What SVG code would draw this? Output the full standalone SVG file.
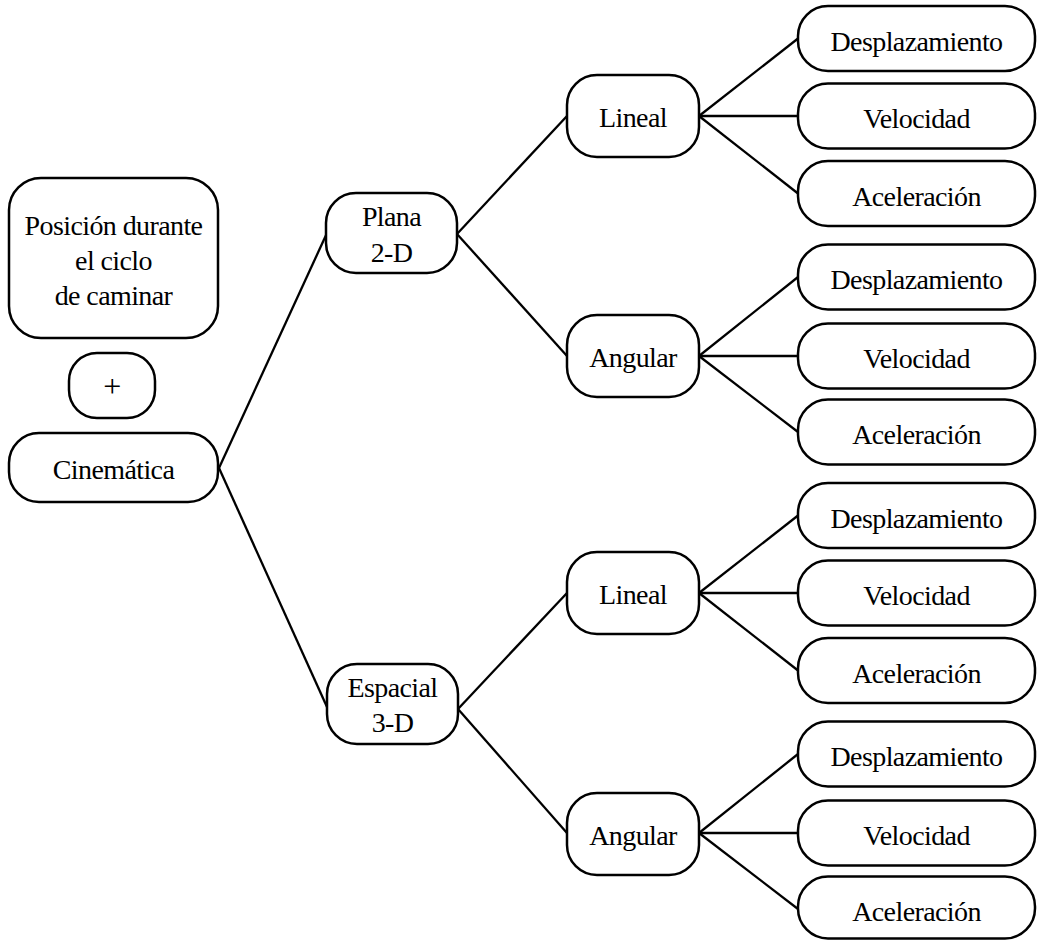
<svg xmlns="http://www.w3.org/2000/svg" width="1040" height="940" viewBox="0 0 1040 940">
<style>
.box{fill:#fff;stroke:#000;stroke-width:2.5}
.t{font-family:"Liberation Serif","Times New Roman",serif;font-size:28px;letter-spacing:-0.6px;text-anchor:middle;fill:#000}
.p{font-size:32px}
.c line{stroke:#000;stroke-width:2.3}
</style>
<rect width="1040" height="940" fill="#fff"/>
<g class="c" id="connectors">
<line x1="219" y1="468" x2="327" y2="233"/>
<line x1="219" y1="468" x2="327" y2="707"/>
<line x1="457" y1="234" x2="567" y2="116"/>
<line x1="457" y1="234" x2="567" y2="356"/>
<line x1="458" y1="709" x2="567" y2="593"/>
<line x1="458" y1="709" x2="567" y2="833"/>
<line x1="699" y1="116" x2="798" y2="38.5"/>
<line x1="699" y1="116" x2="798" y2="116"/>
<line x1="699" y1="116" x2="798" y2="193.5"/>
<line x1="699" y1="356" x2="798" y2="277"/>
<line x1="699" y1="356" x2="798" y2="356"/>
<line x1="699" y1="356" x2="798" y2="432"/>
<line x1="699" y1="593" x2="798" y2="515.5"/>
<line x1="699" y1="593" x2="798" y2="593"/>
<line x1="699" y1="593" x2="798" y2="670.5"/>
<line x1="699" y1="833" x2="798" y2="754"/>
<line x1="699" y1="833" x2="798" y2="833"/>
<line x1="699" y1="833" x2="798" y2="909"/>
</g>
<g id="posicion"><rect class="box" x="9" y="178" width="209" height="160" rx="32"/>
<text class="t" x="113.5" y="235">Posición durante</text>
<text class="t" x="113.5" y="270">el ciclo</text>
<text class="t" x="113.5" y="305">de caminar</text></g>
<g id="plus"><rect class="box" x="69" y="353" width="86" height="65" rx="28"/>
<text class="t p" x="112" y="397">+</text></g>
<g id="cinematica"><rect class="box" x="9" y="433" width="209" height="69" rx="30"/>
<text class="t" x="113.5" y="479">Cinemática</text></g>
<g id="plana"><rect class="box" x="326" y="193" width="131" height="80" rx="30"/>
<text class="t" x="391.5" y="226">Plana</text>
<text class="t" x="391.5" y="262">2-D</text></g>
<g id="espacial"><rect class="box" x="327" y="664" width="131" height="80" rx="30"/>
<text class="t" x="392.5" y="697">Espacial</text>
<text class="t" x="392.5" y="732">3-D</text></g>
<g id="lineal1"><rect class="box" x="567" y="75" width="132" height="82" rx="30"/>
<text class="t" x="633" y="127">Lineal</text></g>
<g id="angular1"><rect class="box" x="567" y="315" width="132" height="82" rx="30"/>
<text class="t" x="633" y="367">Angular</text></g>
<g id="lineal2"><rect class="box" x="567" y="552" width="132" height="82" rx="30"/>
<text class="t" x="633" y="604">Lineal</text></g>
<g id="angular2"><rect class="box" x="567" y="793" width="132" height="82" rx="30"/>
<text class="t" x="633" y="845">Angular</text></g>
<g id="desp1"><rect class="box" x="798" y="6" width="237" height="65" rx="30"/><text class="t" x="916.5" y="51">Desplazamiento</text></g>
<g id="vel1"><rect class="box" x="798" y="83.5" width="237" height="65" rx="30"/><text class="t" x="916.5" y="128">Velocidad</text></g>
<g id="acel1"><rect class="box" x="798" y="161" width="237" height="65" rx="30"/><text class="t" x="916.5" y="206">Aceleración</text></g>
<g id="desp2"><rect class="box" x="798" y="244.5" width="237" height="65" rx="30"/><text class="t" x="916.5" y="289">Desplazamiento</text></g>
<g id="vel2"><rect class="box" x="798" y="323.5" width="237" height="65" rx="30"/><text class="t" x="916.5" y="368">Velocidad</text></g>
<g id="acel2"><rect class="box" x="798" y="399.5" width="237" height="65" rx="30"/><text class="t" x="916.5" y="444">Aceleración</text></g>
<g id="desp3"><rect class="box" x="798" y="483" width="237" height="65" rx="30"/><text class="t" x="916.5" y="528">Desplazamiento</text></g>
<g id="vel3"><rect class="box" x="798" y="560.5" width="237" height="65" rx="30"/><text class="t" x="916.5" y="605">Velocidad</text></g>
<g id="acel3"><rect class="box" x="798" y="638" width="237" height="65" rx="30"/><text class="t" x="916.5" y="683">Aceleración</text></g>
<g id="desp4"><rect class="box" x="798" y="721.5" width="237" height="65" rx="30"/><text class="t" x="916.5" y="766">Desplazamiento</text></g>
<g id="vel4"><rect class="box" x="798" y="800.5" width="237" height="65" rx="30"/><text class="t" x="916.5" y="845">Velocidad</text></g>
<g id="acel4"><rect class="box" x="798" y="876.5" width="237" height="62" rx="30"/><text class="t" x="916.5" y="921">Aceleración</text></g>
</svg>
